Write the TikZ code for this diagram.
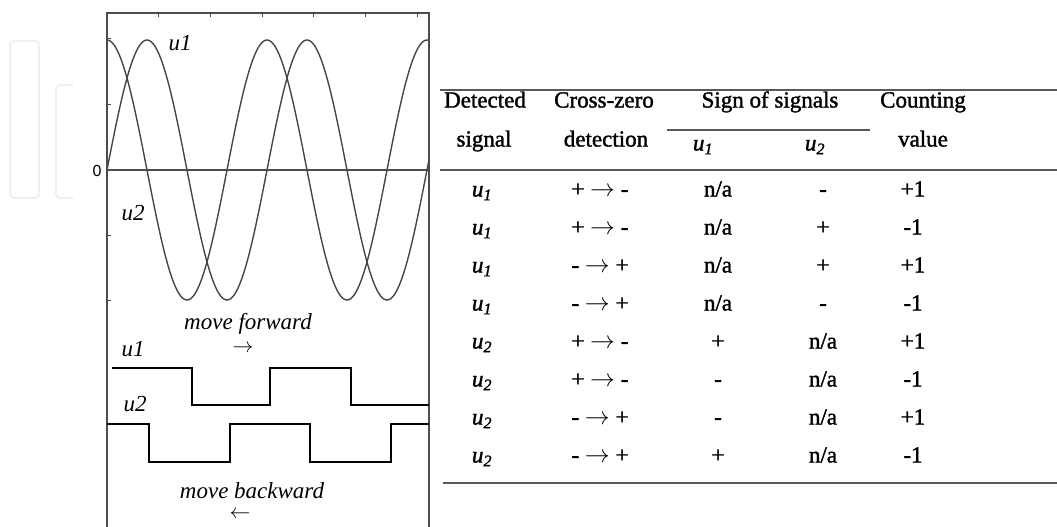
\documentclass[tikz,border=0pt]{standalone}
\usepackage{fontspec}
\setmainfont{Liberation Serif}
\newfontfamily\tabfont[FakeBold=1.5]{Liberation Serif}
\newfontfamily\zerofont{Liberation Sans}
\newcommand\uone{\textit{u}\textsubscript{\textit{1}}}
\newcommand\utwo{\textit{u}\textsubscript{\textit{2}}}
\newcommand\crossPN{+\ $\rightarrow$\ -}
\newcommand\crossNP{-\ $\rightarrow$\ +}
\newcommand\NA{n/a}
\begin{document}
\begin{tikzpicture}[x=1pt,y=-1pt,
  frame/.style={draw=black!70, line width=1.3pt},
  tick/.style={draw=black!70, line width=1pt},
  wave/.style={draw=black!72, line width=1.4pt},
  sq/.style={draw=black, line width=2.3pt},
  rulel/.style={draw=black!65, line width=2.6pt},
  wm/.style={draw=black!6, line width=2pt, rounded corners=4pt},
  lbl/.style={font=\fontsize{23}{23}\selectfont\itshape, inner sep=0pt},
  arr/.style={font=\fontsize{22}{22}\selectfont, inner sep=0pt, text height=6pt, text depth=0pt},
  cell/.style={font=\fontsize{23}{23}\selectfont\tabfont, inner sep=0pt, text height=15pt, text depth=4pt}
]
\useasboundingbox[fill=white] (0,0) rectangle (1057,527);
% faint watermark
\draw[wm] (10,41) rectangle (39,198);
\draw[wm] (73,85) -- (56,85) -- (56,198) -- (73,198);
% plot frame
\draw[frame] (107,527) -- (107,13) -- (429,13) -- (429,527);
\foreach \tx in {158,210,262,313,365,417} \draw[tick] (\tx,13) -- (\tx,17);
\foreach \ty in {39,104,235,300} \draw[tick] (107,\ty) -- (111,\ty);
\coordinate (z0) at (107,170);
\coordinate (z1) at (429,170);
\draw[frame] (z0) -- (z1);
\node[font=\fontsize{16}{16}\selectfont\zerofont, inner sep=0pt] (zero) at (97,171) {0};
% sine waves
\draw[wave] plot[domain=107:429, samples=220, smooth] (\x, {170 - 130*sin((\x-107)*2.25)});
\draw[wave] plot[domain=107:429, samples=220, smooth] (\x, {170 - 130*cos((\x-107)*2.25)});
\node[lbl] (lu1) at (180,43) {u1};
\node[lbl] (lu2) at (133,213) {u2};
% square waves
\node[lbl] (fwd) at (248,324) {move forward};
\node[arr] (fwdarr) at (243,349) {$\rightarrow$};
\node[lbl] (su1) at (133,349) {u1};
\draw[sq] (112,368) -- (192,368) -- (192,405) -- (270,405) -- (270,368) -- (351,368) -- (351,405) -- (429,405);
\node[lbl] (su2) at (135,404) {u2};
\draw[sq] (107,424) -- (149,424) -- (149,462) -- (230,462) -- (230,424) -- (310,424) -- (310,462) -- (391,462) -- (391,424) -- (429,424);
\node[lbl] (bwd) at (252,491) {move backward};
\node[arr] (bwdarr) at (240,515) {$\leftarrow$};
% table rules
\draw[rulel] (440,90) -- (1057,90);
\draw[draw=black!65, line width=2pt] (667,130) -- (870,130);
\draw[rulel] (440,170) -- (1057,170);
\draw[rulel] (443,483) -- (1057,483);
% header
\node[cell] (h11) at (485,102) {Detected};
\node[cell] (h12) at (604,102) {Cross-zero};
\node[cell] (h13) at (770,102) {Sign of signals};
\node[cell] (h14) at (923,102) {Counting};
\node[cell] (h21) at (484,141) {signal};
\node[cell] (h22) at (606,141) {detection};
\node[cell] (h23) at (703,145) {\uone};
\node[cell] (h24) at (815,145) {\utwo};
\node[cell] (h25) at (923,141) {value};
% body
\foreach \s/\z/\p/\q/\v [count=\i] in {
  \uone/\crossPN/\NA/-/+1,
  \uone/\crossPN/\NA/+/-1,
  \uone/\crossNP/\NA/+/+1,
  \uone/\crossNP/\NA/-/-1,
  \utwo/\crossPN/+/\NA/+1,
  \utwo/\crossPN/-/\NA/-1,
  \utwo/\crossNP/-/\NA/+1,
  \utwo/\crossNP/+/\NA/-1} {
  \pgfmathsetmacro\ry{191+(\i-1)*38}
  \node[cell] (r\i a) at (482,\ry) {\s};
  \node[cell] (r\i b) at (600,\ry) {\z};
  \node[cell] (r\i c) at (718,\ry) {\p};
  \node[cell] (r\i d) at (823,\ry) {\q};
  \node[cell] (r\i e) at (913,\ry) {\v};
}
\end{tikzpicture}
\end{document}
